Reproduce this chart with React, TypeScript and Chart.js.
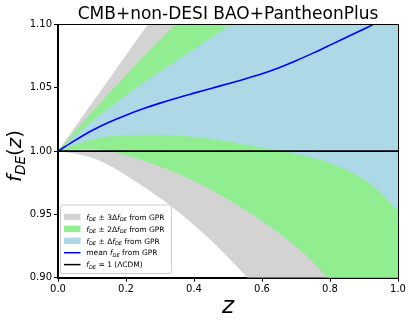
import React, { useEffect, useRef } from "react";
import { Chart, registerables } from "chart.js";

Chart.register(...registerables);

// ---- data ----
const zGrid = [0, 0.05, 0.1, 0.15, 0.2, 0.25, 0.3, 0.35, 0.4, 0.45, 0.5, 0.55, 0.6, 0.65, 0.7, 0.75, 0.8, 0.85, 0.9, 0.95, 1.0];
const meanF = [1.0, 1.0085, 1.0163, 1.0228, 1.0284, 1.0334, 1.0379, 1.042, 1.0458, 1.0495, 1.0532, 1.057, 1.0611, 1.0659, 1.0714, 1.0774, 1.0837, 1.0901, 1.0965, 1.1029, 1.1093];
const upper1 = [1.0, 1.012, 1.0235, 1.0341, 1.0442, 1.0538, 1.0629, 1.0717, 1.0805, 1.0895, 1.0989, 1.1087, 1.1193, 1.1313, 1.1448, 1.16, 1.1769, 1.1953, 1.2155, 1.2389, 1.2663];
const lower1 = [1.0, 1.005, 1.0091, 1.0115, 1.0126, 1.013, 1.0129, 1.0123, 1.0111, 1.0095, 1.0075, 1.0053, 1.0029, 1.0005, 0.998, 0.9948, 0.9905, 0.9849, 0.9775, 0.9669, 0.9523];
const upper2 = [1.0, 1.0155, 1.0307, 1.0454, 1.06, 1.0742, 1.0879, 1.1014, 1.1152, 1.1295, 1.1446, 1.1604, 1.1775, 1.1967, 1.2182, 1.2426, 1.2701, 1.3005, 1.3345, 1.3749, 1.4233];
const lower2 = [1.0, 1.0015, 1.0019, 1.0002, 0.9968, 0.9926, 0.9879, 0.9826, 0.9764, 0.9695, 0.9618, 0.9536, 0.9447, 0.9351, 0.9246, 0.9122, 0.8973, 0.8797, 0.8585, 0.8309, 0.7953];
const upper3 = [1.0, 1.019, 1.0379, 1.0567, 1.0758, 1.0946, 1.1129, 1.1311, 1.1499, 1.1695, 1.1903, 1.2121, 1.2357, 1.2621, 1.2916, 1.3252, 1.3633, 1.4057, 1.4535, 1.5109, 1.5803];
const lower3 = [1.0, 0.998, 0.9947, 0.9889, 0.981, 0.9722, 0.9629, 0.9529, 0.9417, 0.9295, 0.9161, 0.9019, 0.8865, 0.8697, 0.8512, 0.8296, 0.8041, 0.7745, 0.7395, 0.6949, 0.6383];
const lcdmZ = [0, 1];
const lcdmF = [1, 1];

const xTicks = [0, 0.2, 0.4, 0.6, 0.8, 1.0];
const yTicks = [0.9, 0.95, 1.0, 1.05, 1.1];
const titleText = "CMB+non-DESI BAO+PantheonPlus";

const C_GRAY = "#d3d3d3";
const C_GREEN = "#90ee90";
const C_BLUE = "#add8e6";
const FAM = '"DejaVu Sans"';

type Seg = { t: string; it?: boolean; sub?: boolean };

function segFont(s: Seg, size: number) {
  return `${s.it ? "italic " : ""}${s.sub ? size * 0.68 : size}px ${FAM}`;
}
function mathWidth(ctx: CanvasRenderingContext2D, segs: Seg[], size: number) {
  let w = 0;
  for (const s of segs) {
    ctx.font = segFont(s, size);
    w += ctx.measureText(s.t).width;
  }
  return w;
}
function drawMath(ctx: CanvasRenderingContext2D, segs: Seg[], x: number, y: number, size: number, align: "left" | "center") {
  const w = mathWidth(ctx, segs, size);
  let cx = align === "center" ? x - w / 2 : x;
  ctx.textAlign = "left";
  ctx.textBaseline = "alphabetic";
  for (const s of segs) {
    ctx.font = segFont(s, size);
    ctx.fillText(s.t, cx, y + (s.sub ? size * 0.2 : 0));
    cx += ctx.measureText(s.t).width;
  }
}

const fDE: Seg[] = [{ t: "f", it: true }, { t: "DE", it: true, sub: true }];
const legendItems: { kind: "patch" | "line"; color: string; segs: Seg[] }[] = [
  { kind: "patch", color: C_GRAY, segs: [...fDE, { t: " ± 3Δ" }, ...fDE, { t: " from GPR" }] },
  { kind: "patch", color: C_GREEN, segs: [...fDE, { t: " ± 2Δ" }, ...fDE, { t: " from GPR" }] },
  { kind: "patch", color: C_BLUE, segs: [...fDE, { t: " ± Δ" }, ...fDE, { t: " from GPR" }] },
  { kind: "line", color: "#0000ff", segs: [{ t: "mean " }, ...fDE, { t: " from GPR" }] },
  { kind: "line", color: "#000000", segs: [...fDE, { t: " = 1 (ΛCDM)" }] },
];

const pts = (ys: number[]) => zGrid.map((z, i) => ({ x: z, y: ys[i] }));

const decorPlugin = {
  id: "decor",
  afterDraw(chart: any) {
    const ctx: CanvasRenderingContext2D = chart.ctx;
    const a = chart.chartArea;
    ctx.save();
    // frame
    ctx.strokeStyle = "#000";
    ctx.lineWidth = 1;
    ctx.strokeRect(Math.round(a.left) - 0.5, Math.round(a.top) - 0.5, Math.round(a.right - a.left) + 1, Math.round(a.bottom - a.top) + 1);
    // title
    ctx.fillStyle = "#000";
    ctx.font = `17px ${FAM}`;
    ctx.textAlign = "center";
    ctx.textBaseline = "alphabetic";
    ctx.fillText(titleText, (a.left + a.right) / 2, 18.5);
    // x label
    drawMath(ctx, [{ t: "z", it: true }], (a.left + a.right) / 2, 313, 23, "center");
    // y label
    ctx.save();
    ctx.translate(20.5, 156);
    ctx.rotate(-Math.PI / 2);
    drawMath(ctx, [...fDE, { t: "(" }, { t: "z", it: true }, { t: ")" }], 0, 0, 20, "center");
    ctx.restore();
    // legend
    const lx = 60, ly = 204.5, lw = 111, lh = 68.5;
    ctx.beginPath();
    (ctx as any).roundRect(lx + 0.5, ly + 0.5, lw, lh, 2);
    ctx.fillStyle = "rgba(255,255,255,0.8)";
    ctx.fill();
    ctx.strokeStyle = "#cccccc";
    ctx.lineWidth = 1;
    ctx.stroke();
    const fs = 7.5;
    legendItems.forEach((it, i) => {
      const cy = 217 + i * 11.9;
      if (it.kind === "patch") {
        ctx.fillStyle = it.color;
        ctx.fillRect(64, cy - 3.2, 16.5, 6.4);
      } else {
        ctx.strokeStyle = it.color;
        ctx.lineWidth = 1.5;
        ctx.beginPath();
        ctx.moveTo(64, cy);
        ctx.lineTo(80.5, cy);
        ctx.stroke();
      }
      ctx.fillStyle = "#000";
      drawMath(ctx, it.segs, 86.3, cy + 2.7, fs, "left");
    });
    ctx.restore();
  },
};

export default function App() {
  const ref = useRef<HTMLCanvasElement | null>(null);
  useEffect(() => {
    if (!ref.current) return;
    const band = (ys: number[], color: string, fill: any) => ({
      data: pts(ys),
      borderWidth: 0,
      borderColor: color,
      backgroundColor: color,
      pointRadius: 0,
      fill,
      cubicInterpolationMode: "monotone",
    });
    const chart = new Chart(ref.current, {
      type: "line",
      data: {
        datasets: [
          {
            data: lcdmZ.map((z, i) => ({ x: z, y: lcdmF[i] })),
            borderColor: "#000",
            borderWidth: 1.6,
            pointRadius: 0,
            fill: false,
          },
          {
            data: pts(meanF),
            borderColor: "#0000ff",
            borderWidth: 1.6,
            pointRadius: 0,
            fill: false,
            cubicInterpolationMode: "monotone",
          },
          band(upper1, C_BLUE, "+1"),
          band(lower1, C_BLUE, false),
          band(upper2, C_GREEN, "+1"),
          band(lower2, C_GREEN, false),
          band(upper3, C_GRAY, "+1"),
          band(lower3, C_GRAY, false),
        ] as any,
      },
      options: {
        responsive: false,
        animation: false,
        devicePixelRatio: 1,
        layout: { padding: { left: 0, top: 24.5, right: 15, bottom: 0 } },
        plugins: { legend: { display: false }, tooltip: { enabled: false }, title: { display: false } },
        scales: {
          x: {
            type: "linear",
            min: 0,
            max: 1,
            afterBuildTicks: (s: any) => {
              s.ticks = xTicks.map((v) => ({ value: v }));
            },
            afterFit: (s: any) => {
              s.height = 48.3;
            },
            grid: { display: true, drawOnChartArea: false, drawTicks: true, tickLength: 4, tickColor: "#000", color: "#000" },
            border: { display: true, color: "#000", width: 1 },
            ticks: {
              color: "#000",
              font: { family: "DejaVu Sans", size: 10 },
              padding: 2,
              maxRotation: 0,
              autoSkip: false,
              callback: (v: any) => Number(v).toFixed(1),
            },
          },
          y: {
            type: "linear",
            min: 0.9,
            max: 1.1,
            afterBuildTicks: (s: any) => {
              s.ticks = yTicks.map((v) => ({ value: v }));
            },
            afterFit: (s: any) => {
              s.width = 58;
            },
            grid: { display: true, drawOnChartArea: false, drawTicks: true, tickLength: 4, tickColor: "#000", color: "#000" },
            border: { display: true, color: "#000", width: 1 },
            ticks: {
              color: "#000",
              font: { family: "DejaVu Sans", size: 10 },
              padding: 2,
              autoSkip: false,
              callback: (v: any) => Number(v).toFixed(2),
            },
          },
        },
      } as any,
      plugins: [decorPlugin],
    });
    return () => chart.destroy();
  }, []);
  return (
    <div style={{ position: "fixed", left: 0, top: 0, width: 413, height: 326, background: "#fff" }}>
      <canvas ref={ref} width={413} height={326} style={{ display: "block" }} />
    </div>
  );
}
